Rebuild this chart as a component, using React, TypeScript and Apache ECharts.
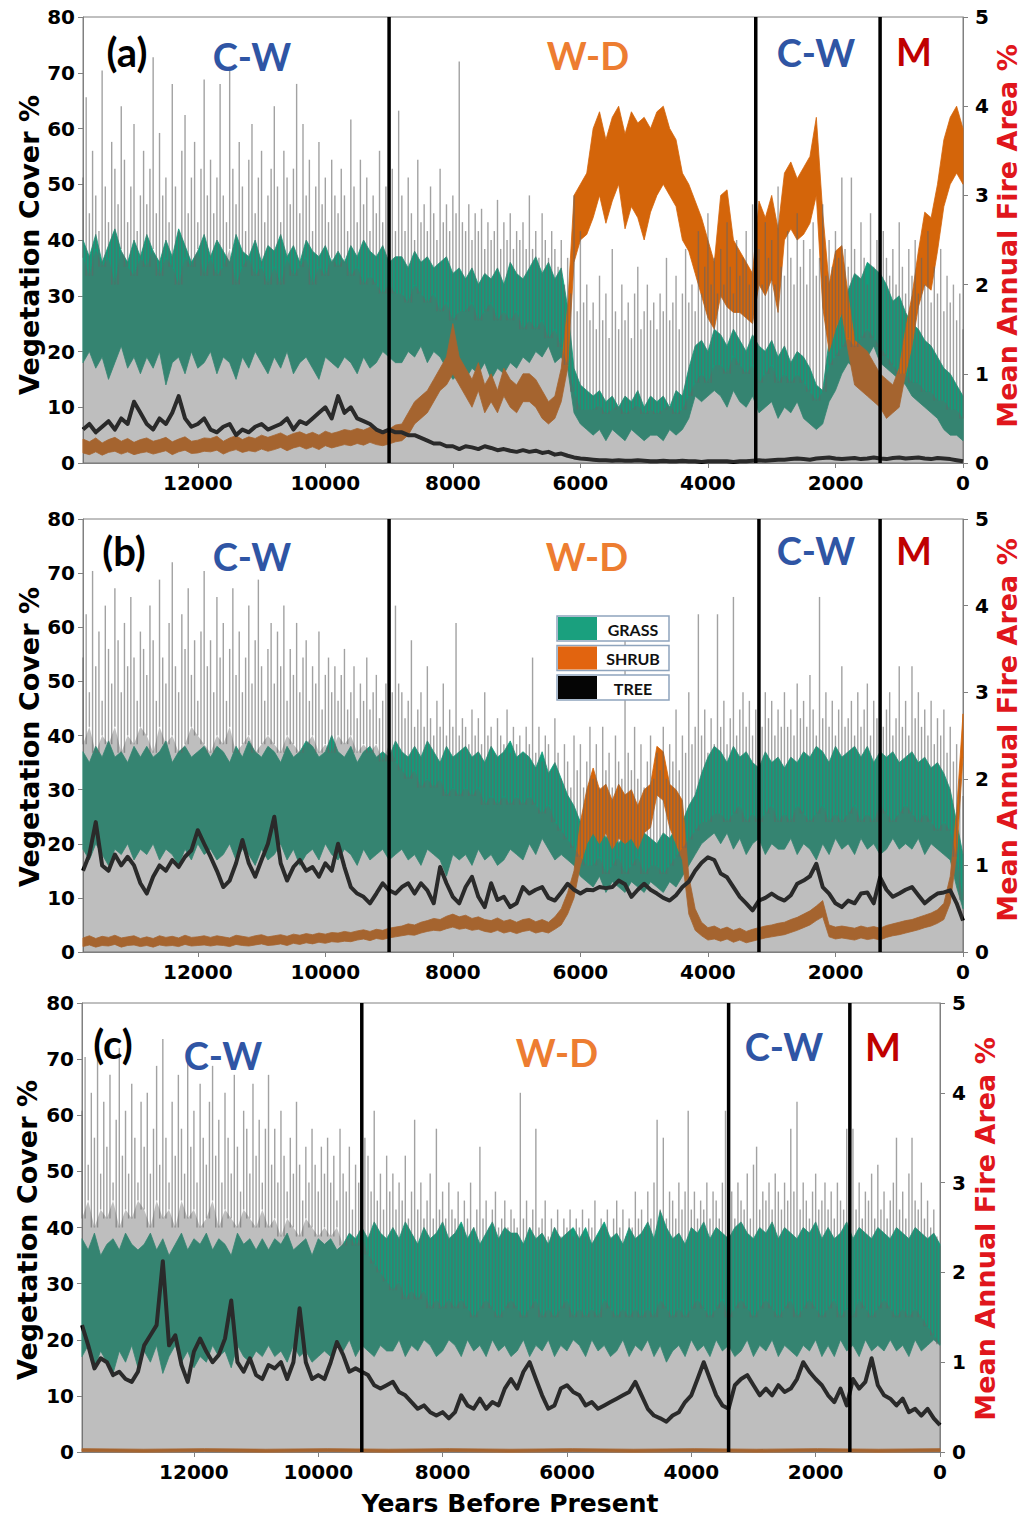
import React, { useEffect, useRef } from "react";
import * as echarts from "echarts";

// ---------------- axis ranges ----------------
const X_MAX = 13800; // years before present at the left edge
const X_STEP = 2000;
const VEG_MAX = 80;
const VEG_STEP = 10;
const FIRE_MAX = 5;
const FIRE_STEP = 1;

// ---------------- panel (a) ----------------
// vegetation arrays: one value every 100 years from 13800 BP to 0 BP
const grassHiA = [
  40, 37, 41, 36, 39, 42, 38, 36, 40, 37,
  41, 38, 36, 40, 37, 42, 39, 36, 38, 41,
  37, 40, 38, 36, 41, 38, 37, 40, 36, 39,
  38, 41, 37, 39, 36, 40, 38, 37, 39, 36,
  38, 36, 39, 37, 40, 38, 37, 39, 36, 37,
  37, 35, 38, 36, 37, 35, 36, 37, 34, 35,
  33, 35, 32, 34, 33, 35, 32, 36, 34, 33,
  35, 37, 34, 36, 33, 35, 28, 17, 14, 13,
  12, 13, 11, 12, 10, 12, 11, 13, 10, 12,
  11, 12, 10, 13, 12, 17, 21, 22, 20, 24,
  23, 21, 24, 22, 20, 23, 21, 20, 22, 19,
  21, 18, 20, 19, 17, 14, 13, 22, 24, 27,
  31, 34, 33, 36, 35, 34, 32, 29, 30, 27,
  25, 24, 22, 21, 19, 17, 16, 14, 12,
];
const grassLoA = [
  18, 20, 17, 19, 15, 18, 21, 17, 19, 16,
  19, 17, 20, 14, 18, 19, 16, 20, 17, 18,
  20, 16, 19, 18, 15, 19, 17, 20, 18, 16,
  19, 17, 20, 16, 18, 19, 17, 15, 19, 18,
  17, 19, 18, 16, 19, 17, 18, 20, 19, 18,
  18, 20, 19, 21, 18, 20, 19, 17, 15, 16,
  15, 17, 16, 18, 15, 17, 16, 18, 17, 19,
  18, 20, 19, 21, 18, 19, 17, 9, 7, 6,
  5, 6, 4, 6, 5, 4, 6, 5, 4, 5,
  5, 4, 6, 5, 6, 8, 12, 11, 12, 13,
  12, 10, 13, 11, 10, 12, 9, 10, 11, 8,
  10, 9, 11, 8, 7, 6, 7, 11, 13, 16,
  18, 17, 20, 19, 21, 18, 17, 16, 15, 14,
  12, 11, 10, 9, 8, 6, 5, 5, 4,
];
const shrubHiA = [
  4.3, 3.8, 4.5, 3.6, 4.2, 4.6, 3.9, 4.4, 3.7, 4.2,
  4.5, 3.9, 4.2, 4.6, 3.8, 4.3, 4.7, 3.9, 4.1, 4.5,
  4.4, 4.8, 3.9, 4.5, 4.9, 4.2, 4.7, 4.4, 5.0, 4.6,
  5.0, 5.4, 4.8, 5.3, 5.6, 5.1, 5.5, 5.0, 5.7, 5.3,
  5.6, 6.0, 5.8, 6.2, 5.9, 6.4, 6.0, 5.8, 6.1, 6.8,
  7, 9, 11, 12, 13, 15, 17, 19, 25, 19,
  17, 15, 18, 14, 16, 13, 17, 15, 14, 16,
  16, 15, 13, 11, 12, 17, 28, 48, 50, 52,
  60, 63, 58, 62, 64, 59, 63, 61, 62, 60,
  63, 64, 60, 58, 52, 50, 47, 44, 40, 36,
  48, 49, 40, 38, 36, 34, 47, 44, 48, 42,
  52, 54, 51, 53, 55, 62, 45, 32, 38, 39,
  30, 22, 21, 20, 18, 16, 15, 14, 17, 24,
  30, 38, 45, 44, 50, 58, 62, 64, 60,
];
const shrubLoA = [
  1.8, 1.5, 2.0, 1.4, 1.9, 2.1, 1.6, 2.0, 1.5, 1.8,
  2.0, 1.6, 1.9, 2.2, 1.5, 2.0, 2.3, 1.7, 1.8, 2.1,
  2.0, 2.3, 1.6, 2.1, 2.4, 1.9, 2.2, 2.0, 2.5, 2.1,
  2.4, 2.8, 2.2, 2.7, 3.0, 2.5, 2.9, 2.4, 3.1, 2.7,
  3.0, 3.3, 3.1, 3.5, 3.2, 3.7, 3.3, 3.1, 3.4, 3.8,
  4, 5, 7, 8, 9, 11, 13, 14, 16, 14,
  12, 10, 13, 9, 11, 9, 12, 10, 9, 11,
  11, 10, 8, 7, 8, 11, 17, 36, 40, 41,
  44, 48, 43, 47, 50, 42, 46, 44, 40, 45,
  48, 50, 48, 46, 40, 38, 34, 30, 26, 24,
  30, 28, 27, 27, 26, 25, 32, 30, 33, 27,
  40, 42, 40, 41, 43, 48, 28, 20, 24, 27,
  20, 14, 13, 12, 11, 10, 8, 9, 10, 16,
  21, 28, 32, 31, 38, 46, 50, 52, 50,
];
const treeA = [
  6, 7, 5.5, 6.5, 7.5, 6, 8, 7, 11, 9,
  7, 6, 8, 7, 9, 12, 8, 6.5, 7, 8,
  6, 5.5, 6.5, 7, 5, 6, 5.5, 6.5, 7, 6,
  6.5, 7, 8, 6, 7.5, 7, 8, 9, 10, 8,
  12, 9, 10, 8, 7.5, 7, 6, 5.5, 6, 5.5,
  5.5, 5, 5, 4.5, 4, 3.5, 3.5, 3, 3, 2.5,
  3, 2.8, 2.5, 3, 2.7, 2.3, 2.5, 2.2, 2.0, 2.3,
  2.0, 2.2, 1.8, 2.0, 1.5, 1.7, 1.3, 1.0, 0.8, 0.7,
  0.6, 0.5, 0.5, 0.4, 0.5, 0.4, 0.4, 0.5, 0.4, 0.3,
  0.3, 0.4, 0.3, 0.3, 0.4, 0.3, 0.3, 0.2, 0.3, 0.3,
  0.3, 0.3, 0.2, 0.3, 0.3, 0.4, 0.5, 0.4, 0.5, 0.6,
  0.6, 0.7, 0.8, 0.7, 0.6, 0.8, 0.9, 1.0, 0.8, 0.7,
  0.8, 0.9, 0.7, 0.8, 1.0, 0.8, 0.7, 0.9, 1.0, 0.8,
  0.9, 1.0, 0.8, 0.7, 0.9, 0.8, 0.7, 0.5, 0.3,
];
// fire: dense lower level every 100 years, spike tops every 50 years
const fireFloorA = [
  2.3, 2.1, 2.4, 2.2, 2.3, 2.0, 2.4, 2.2, 2.1, 2.3,
  2.2, 2.4, 2.1, 2.3, 2.2, 2.0, 2.3, 2.2, 2.4, 2.1,
  2.3, 2.1, 2.2, 2.4, 2.0, 2.2, 2.3, 2.1, 2.2, 2.0,
  2.2, 2.0, 2.3, 2.1, 2.2, 2.3, 2.0, 2.2, 2.1, 2.3,
  2.2, 2.3, 2.1, 2.2, 2.0, 2.1, 2.0, 1.9, 2.0, 1.9,
  1.9, 1.8, 2.0, 1.9, 1.8, 1.9, 1.7, 1.8, 1.6, 1.7,
  1.7, 1.8, 1.6, 1.7, 1.8, 1.6, 1.7, 1.6, 1.7, 1.5,
  1.6, 1.5, 1.6, 1.4, 1.5, 1.3, 1.1, 0.8, 0.6, 0.6,
  0.6, 0.65, 0.55, 0.6, 0.65, 0.55, 0.6, 0.65, 0.55, 0.6,
  0.55, 0.6, 0.65, 0.55, 0.6, 0.75, 0.9, 1.0, 0.9, 1.1,
  1.1, 1.0, 1.2, 1.1, 1.0, 1.1, 0.9, 1.0, 1.1, 0.9,
  1.0, 0.9, 1.0, 0.9, 0.8, 0.7, 0.8, 1.1, 1.2, 1.3,
  1.4, 1.3, 1.4, 1.5, 1.4, 1.3, 1.2, 1.1, 1.0, 1.0,
  0.9, 0.9, 0.8, 0.8, 0.7, 0.7, 0.6, 0.6, 0.5,
];
const firePeakA = [
  3.2, 4.1, 2.8, 3.5, 3.0, 2.6, 4.4, 3.1, 2.7, 3.6, 3.3, 2.9, 4.0, 3.4, 2.7, 3.1, 3.8, 2.6, 3.0, 3.5,
  2.9, 3.3, 4.55, 2.8, 3.7, 3.0, 3.2, 2.7, 4.25, 3.1, 2.6, 3.5, 3.9, 2.8, 3.2, 3.6, 2.7, 3.3, 4.3, 3.0,
  3.4, 2.8, 3.2, 4.25, 3.0, 2.7, 4.4, 3.3, 2.9, 3.6, 3.1, 2.6, 3.4, 3.8, 2.8, 3.2, 3.5, 2.7, 3.0, 3.3,
  4.0, 3.1, 2.7, 3.5, 3.2, 2.9, 3.3, 4.25, 2.8, 3.8, 3.0, 3.4, 2.6, 3.1, 3.6, 2.9, 3.2, 2.7, 3.4, 3.0,
  2.8, 3.3, 3.0, 2.6, 3.85, 3.1, 2.7, 3.4, 2.9, 3.2, 2.6, 3.0, 2.8, 3.5, 2.7, 3.1, 2.9, 3.3, 2.6, 3.95,
  3.0, 2.6, 3.2, 2.8, 2.5, 3.4, 2.7, 2.9, 2.6, 3.1, 2.8, 2.5, 3.3, 2.7, 2.9, 2.6, 3.0, 2.8, 4.5, 2.7,
  2.6, 2.9, 2.5, 2.8, 2.6, 2.85, 2.4, 2.7, 2.5, 2.6, 2.95, 2.4, 2.7, 2.5, 2.8, 2.4, 2.6, 2.5, 2.7, 2.4,
  3.0, 2.4, 2.6, 2.3, 2.8, 2.5, 2.3, 2.6, 2.4, 2.2, 2.5, 2.0, 2.3, 1.9, 3.0, 1.7, 2.6, 1.8, 2.0, 1.6,
  1.8, 1.5, 2.1, 1.6, 1.9, 1.4, 2.4, 1.7, 1.5, 2.0, 1.6, 1.8, 1.4, 1.9, 2.2, 1.5, 1.7, 2.0, 1.6, 1.8,
  1.5, 1.9, 1.7, 2.3, 1.6, 1.8, 2.1, 1.5, 1.9, 2.4, 1.8, 2.0, 1.7, 2.6, 1.9, 2.2, 2.8, 2.0, 2.3, 1.9,
  2.4, 2.0, 2.7, 2.2, 1.9, 2.5, 2.1, 2.3, 2.6, 2.0, 2.9, 2.2, 2.4, 2.0, 2.7, 2.3, 2.5, 2.0, 3.1, 2.2,
  2.1, 2.6, 2.3, 2.0, 2.8, 2.2, 2.5, 2.0, 2.4, 2.7, 2.1, 2.3, 2.9, 2.1, 2.5, 2.2, 2.6, 2.3, 3.2, 2.4,
  2.2, 3.2, 2.4, 2.1, 2.7, 2.3, 2.0, 2.8, 2.2, 2.5, 2.0, 2.6, 2.3, 2.1, 2.4, 2.0, 2.7, 2.2, 1.9, 2.4,
  2.1, 2.5, 1.9, 2.3, 2.0, 2.6, 1.8, 2.2, 1.9, 2.4, 1.7, 2.1, 1.8, 2.0, 1.6, 1.9, 1.5,
];
const boundariesA = [9000, 3250, 1300];

// ---------------- panel (b) ----------------
const grassHiB = [
  37, 35, 38, 36, 39, 36, 37, 35, 38, 36,
  38, 36, 37, 39, 35, 37, 38, 36, 37, 38,
  36, 38, 37, 35, 38, 36, 39, 37, 36, 38,
  37, 35, 38, 36, 37, 39, 38, 36, 37, 40,
  37, 36, 38, 35, 37, 38, 36, 37, 36, 39,
  37, 36, 38, 36, 39, 37, 35, 38, 36, 37,
  38, 36, 37, 35, 38, 36, 37, 39, 36, 37,
  36, 34, 37, 33, 35, 32, 29, 27, 24, 22,
  22, 24, 21, 23, 20, 22, 21, 20, 22, 21,
  20, 22, 21, 23, 24, 27, 29, 33, 36, 38,
  37, 35, 38, 36, 37, 35, 34, 37, 35, 36,
  34, 36, 35, 37, 36, 38, 37, 35, 38, 36,
  37, 38, 36, 38, 35, 37, 36, 37, 35, 36,
  37, 35, 36, 34, 35, 33, 30, 24, 18,
];
const grassLoB = [
  19, 17, 20, 18, 16, 19, 18, 20, 17, 19,
  18, 20, 17, 19, 18, 16, 19, 17, 20, 18,
  19, 17, 18, 20, 17, 19, 18, 16, 19, 17,
  18, 20, 17, 19, 16, 18, 19, 17, 20, 18,
  17, 19, 18, 16, 19, 17, 18, 19, 17, 18,
  19, 17, 18, 16, 19, 18, 17, 14, 18, 17,
  18, 16, 19, 17, 18, 16, 17, 19, 18, 17,
  20, 18, 21, 19, 17, 18, 17, 16, 14, 13,
  12, 14, 11, 13, 12, 11, 13, 12, 11, 13,
  12, 11, 13, 12, 14, 16, 18, 20, 21, 22,
  20, 22, 19, 21, 18, 20, 21, 18, 20, 19,
  19, 21, 18, 20, 19, 17, 20, 18, 21, 19,
  20, 18, 21, 19, 20, 18, 19, 21, 19, 20,
  19, 21, 18, 20, 19, 18, 17, 12, 8,
];
const shrubHiB = [
  2.6, 3.0, 2.5, 2.9, 2.7, 3.1, 2.6, 2.8, 3.0, 2.5,
  2.8, 2.5, 3.0, 2.7, 2.9, 2.6, 3.1, 2.7, 2.8, 3.0,
  2.7, 3.0, 2.8, 2.6, 3.1, 2.9, 2.7, 3.0, 3.2, 2.8,
  3.0, 3.2, 2.9, 3.3, 3.1, 3.4, 3.2, 3.5, 3.3, 3.6,
  3.5, 3.8, 3.6, 3.9, 4.1, 3.8, 4.2, 4.0, 4.4, 4.6,
  4.8, 5.2, 5.0, 5.5, 5.8, 6.2, 6.0, 6.6, 7.0, 6.5,
  6.8, 6.2, 6.5, 6.0, 5.8, 6.3, 5.7, 6.0, 5.5, 6.0,
  6.2, 5.6, 6.0, 5.5, 6.5, 8, 11, 15, 24, 30,
  34, 30, 31, 28, 31, 29, 30, 27, 30, 31,
  38, 37, 31, 30, 28, 14, 8, 5.5, 4.5, 4.8,
  4.2, 4.6, 4.0, 4.4, 3.8, 4.2, 4.5, 4.8, 5.0, 5.3,
  5.5, 6.0, 6.4, 7.0, 7.6, 8.5, 9.5, 5.0, 4.6, 4.8,
  4.6, 4.4, 4.8, 4.5, 4.7, 4.4, 4.9, 5.2, 5.5, 5.8,
  6.0, 6.4, 6.8, 7.2, 7.8, 9, 14, 26, 44,
];
const shrubLoB = [
  1.0, 1.3, 0.9, 1.2, 1.1, 1.4, 0.9, 1.2, 1.3, 1.0,
  1.2, 0.9, 1.3, 1.1, 1.2, 1.0, 1.4, 1.1, 1.2, 1.3,
  1.1, 1.3, 1.2, 1.0, 1.4, 1.2, 1.1, 1.3, 1.5, 1.2,
  1.3, 1.5, 1.2, 1.6, 1.4, 1.7, 1.5, 1.8, 1.6, 1.9,
  1.8, 2.0, 1.9, 2.2, 2.4, 2.1, 2.5, 2.3, 2.6, 2.8,
  3.0, 3.2, 3.1, 3.5, 3.8, 4.0, 3.9, 4.3, 4.6, 4.2,
  4.4, 4.0, 4.2, 3.8, 3.6, 4.0, 3.5, 3.8, 3.4, 3.8,
  4.0, 3.5, 3.8, 3.5, 4.2, 5, 7, 10, 16, 20,
  22, 20, 22, 19, 21, 20, 21, 19, 22, 23,
  29, 28, 23, 20, 17, 7, 4, 3, 2.2, 2.4,
  2.0, 2.4, 1.8, 2.2, 1.7, 2.0, 2.3, 2.6, 2.8, 3.0,
  3.2, 3.6, 4.0, 4.5, 5.0, 5.8, 6.5, 2.8, 2.4, 2.6,
  2.4, 2.2, 2.6, 2.3, 2.5, 2.2, 2.7, 3.0, 3.2, 3.5,
  3.8, 4.1, 4.5, 4.8, 5.3, 6, 9, 18, 36,
];
const treeB = [
  15, 18, 24, 16, 15, 18, 16, 17.6, 16, 12.7,
  10.8, 13.9, 16, 15, 17, 15.7, 17.6, 18.8, 22.5, 20,
  17.6, 15, 12, 13.2, 16.4, 20.7, 16.4, 13.9, 17, 20,
  25, 16.4, 13.2, 15.7, 17, 15, 15.7, 13.9, 16.4, 15,
  20, 15.7, 12, 10.8, 10.2, 9, 10.8, 12.7, 11.4, 10.8,
  12, 12.7, 10.8, 12.7, 11.4, 9, 15.7, 12.7, 10.2, 9,
  12, 13.9, 10.2, 8.3, 12.7, 9.6, 10.2, 8.3, 9, 12,
  10.8, 11.5, 12, 10, 9.5, 11, 12.6, 11.5, 10.8, 11.5,
  11.4, 12, 11.8, 12, 13.2, 12.5, 10.2, 11.5, 12.6, 11.5,
  10.8, 10, 9.5, 10.5, 12, 13, 15, 16.5, 17.5, 17,
  14.5, 13.8, 12, 10.2, 9, 7.7, 9.5, 10, 10.8, 10,
  9.5, 10.5, 12.6, 13.2, 14, 16.3, 12, 10.8, 9, 8.3,
  9.5, 9, 10.8, 11, 9, 13.8, 11.5, 10.2, 10.8, 11.5,
  12, 10.5, 9, 10, 10.8, 11, 11.4, 9, 5.8,
];
const fireFloorB = [
  2.4, 2.6, 2.3, 2.5, 2.4, 2.6, 2.3, 2.5, 2.4, 2.6,
  2.5, 2.3, 2.6, 2.4, 2.5, 2.3, 2.4, 2.6, 2.5, 2.4,
  2.3, 2.5, 2.4, 2.6, 2.3, 2.4, 2.5, 2.3, 2.4, 2.5,
  2.4, 2.3, 2.5, 2.4, 2.3, 2.4, 2.5, 2.3, 2.4, 2.3,
  2.5, 2.4, 2.5, 2.3, 2.4, 2.3, 2.4, 2.2, 2.4, 2.2,
  2.1, 2.0, 2.1, 1.9, 2.0, 1.9, 2.0, 1.8, 1.9, 1.8,
  1.9, 1.8, 1.9, 1.7, 1.8, 1.7, 1.8, 1.7, 1.8, 1.7,
  1.8, 1.7, 1.6, 1.7, 1.5, 1.4, 1.3, 1.2, 1.1, 1.0,
  1.0, 1.1, 0.9, 1.0, 1.1, 0.9, 1.0, 1.1, 0.9, 1.0,
  1.0, 0.9, 1.0, 1.1, 1.2, 1.3, 1.4, 1.5, 1.5, 1.6,
  1.6, 1.5, 1.6, 1.7, 1.5, 1.6, 1.5, 1.6, 1.7, 1.5,
  1.6, 1.5, 1.7, 1.6, 1.5, 1.6, 1.7, 1.5, 1.6, 1.5,
  1.6, 1.7, 1.5, 1.6, 1.5, 1.7, 1.6, 1.5, 1.6, 1.7,
  1.6, 1.5, 1.6, 1.5, 1.4, 1.5, 1.4, 1.1, 0.6,
];
const firePeakB = [
  3.4, 3.9, 3.0, 4.4, 3.3, 3.7, 2.9, 4.0, 3.5, 3.1, 4.2, 3.6, 3.0, 3.8, 3.3, 4.1, 3.4, 2.9, 3.7, 3.5,
  3.2, 4.0, 3.6, 2.9, 4.3, 3.4, 3.1, 3.8, 4.5, 3.3, 3.0, 3.9, 3.5, 4.2, 3.2, 3.6, 2.9, 3.7, 4.4, 3.3,
  3.6, 3.0, 4.1, 3.4, 3.8, 2.9, 3.5, 4.2, 3.2, 3.7, 3.0, 3.4, 4.0, 3.1, 3.6, 4.3, 3.3, 2.9, 3.5, 3.8,
  3.1, 3.7, 3.3, 4.0, 2.9, 3.5, 3.2, 3.8, 3.0, 3.4, 3.6, 2.9, 3.3, 3.1, 3.7, 2.8, 3.2, 3.4, 3.0, 3.3,
  2.9, 3.2, 3.5, 2.8, 3.0, 3.3, 2.7, 3.1, 2.9, 3.4, 2.8, 3.0, 3.2, 2.7, 2.9, 3.1, 2.8, 3.0, 4.0, 3.1,
  3.0, 2.7, 2.9, 3.6, 2.6, 2.8, 3.0, 2.6, 3.3, 2.7, 2.5, 2.9, 2.6, 3.1, 2.5, 2.8, 2.6, 3.8, 2.5, 2.7,
  2.6, 2.4, 2.8, 2.5, 2.7, 2.4, 3.0, 2.5, 2.6, 2.3, 2.7, 2.5, 2.4, 2.8, 2.3, 2.6, 2.4, 2.5, 2.3, 2.6,
  2.4, 3.4, 2.3, 2.6, 2.2, 2.5, 2.4, 2.1, 2.7, 2.3, 2.0, 2.4, 2.2, 1.9, 2.5, 2.1, 2.4, 1.9, 2.2, 2.6,
  2.0, 2.4, 1.9, 2.6, 2.1, 2.3, 1.9, 2.5, 2.2, 2.0, 3.8, 2.3, 2.1, 2.6, 2.0, 2.4, 1.9, 2.2, 2.5, 2.0,
  2.3, 2.1, 2.6, 2.0, 2.4, 2.2, 2.8, 2.1, 2.5, 2.3, 3.0, 2.4, 2.6, 3.9, 2.5, 2.8, 2.3, 2.7, 2.4, 3.9,
  2.6, 2.9, 2.4, 2.7, 4.1, 2.5, 2.8, 3.0, 2.6, 2.9, 2.5, 2.8, 4.2, 2.6, 3.0, 2.7, 2.9, 2.5, 2.8, 2.6,
  3.0, 2.6, 2.8, 2.5, 3.1, 2.7, 2.9, 2.6, 3.2, 2.8, 2.5, 4.1, 2.7, 3.0, 2.6, 2.9, 2.5, 2.8, 3.3, 2.6,
  2.7, 2.9, 2.5, 3.0, 2.6, 2.8, 3.1, 2.5, 2.9, 2.7, 3.9, 2.6, 2.8, 3.0, 2.5, 2.7, 3.3, 2.6, 2.9, 2.5,
  3.3, 2.7, 3.0, 2.6, 2.8, 2.5, 2.9, 2.4, 2.7, 2.5, 2.8, 2.3, 2.6, 2.2, 2.4, 2.0, 1.8,
];
const boundariesB = [9000, 3200, 1300];

// ---------------- panel (c) ----------------
const grassHiC = [
  38, 36, 39, 35, 37, 38, 36, 39, 37, 36,
  37, 39, 36, 38, 35, 37, 39, 36, 38, 37,
  39, 36, 38, 37, 35, 39, 37, 38, 36, 38,
  36, 38, 37, 39, 36, 37, 38, 35, 38, 37,
  38, 36, 37, 39, 38, 40, 38, 41, 39, 38,
  40, 38, 41, 39, 37, 40, 38, 39, 41, 38,
  39, 41, 38, 40, 37, 39, 41, 38, 40, 39,
  39, 37, 40, 38, 39, 37, 40, 38, 39, 40,
  38, 40, 37, 39, 41, 38, 39, 37, 40, 38,
  39, 41, 38, 43, 40, 38, 39, 37, 40, 39,
  41, 38, 40, 39, 38, 40, 41, 39, 38, 40,
  39, 41, 38, 40, 39, 38, 40, 39, 41, 38,
  40, 38, 39, 41, 38, 40, 39, 38, 40, 39,
  38, 40, 39, 38, 40, 39, 38, 39, 37,
];
const grassLoC = [
  17, 19, 15, 18, 16, 14, 18, 16, 19, 15,
  18, 16, 19, 14, 17, 19, 16, 18, 15, 17,
  16, 19, 17, 18, 15, 19, 17, 16, 18, 17,
  19, 17, 18, 16, 19, 17, 18, 16, 17, 18,
  17, 19, 18, 20, 17, 19, 18, 17, 19, 18,
  18, 20, 17, 19, 18, 20, 19, 17, 18, 20,
  19, 17, 20, 18, 19, 17, 20, 18, 19, 17,
  18, 20, 17, 19, 18, 20, 17, 19, 18, 20,
  19, 17, 20, 18, 19, 17, 18, 20, 17, 19,
  18, 20, 17, 19, 16, 18, 19, 17, 20, 18,
  19, 17, 20, 18, 19, 17, 18, 20, 17, 19,
  18, 20, 17, 19, 18, 17, 19, 18, 20, 17,
  19, 17, 20, 18, 19, 17, 20, 18, 19, 18,
  20, 18, 19, 17, 20, 18, 19, 20, 19,
];
// shrub stays near zero in (c): one value about every 1000 years
const shrubHiC = [0.6, 0.5, 0.6, 0.5, 0.6, 0.5, 0.6, 0.5, 0.6, 0.5, 0.6, 0.5, 0.6, 0.5, 0.6];
const shrubLoC = [0.1, 0.0, 0.1, 0.0, 0.1, 0.0, 0.1, 0.0, 0.1, 0.0, 0.1, 0.0, 0.1, 0.0, 0.1];
const treeC = [
  22.6, 19, 14.9, 16.7, 16, 13.7, 14.3, 13, 12.5, 14.3,
  19, 20.8, 22.6, 34, 19, 20.8, 15.5, 12.5, 17.9, 20.2,
  17.9, 16, 17.3, 20.2, 27, 16, 14.3, 16.7, 13.7, 13,
  15.5, 14.9, 16, 13, 16, 25.6, 16, 13, 13.7, 13,
  16, 19.6, 17.3, 14.3, 14.9, 14.3, 13.7, 11.9, 11.3, 11.9,
  12.5, 10.7, 10.1, 8.9, 7.7, 8.3, 7.1, 6.5, 7.1, 6,
  7.1, 10.1, 8.3, 7.7, 9.5, 7.7, 8.9, 8.3, 11.3, 13,
  11.3, 14.3, 16, 13, 10.1, 7.7, 8.3, 11.3, 11.9, 10.7,
  10.1, 8.3, 8.9, 7.7, 8.3, 8.9, 9.5, 10.1, 10.7, 12.5,
  10.1, 7.7, 6.5, 6, 5.4, 6.5, 7.1, 8.9, 10.1, 13,
  16, 13, 10.1, 8.3, 7.7, 11.9, 13, 13.7, 11.9, 10.1,
  11.3, 10.1, 11.9, 10.7, 11.3, 13, 16, 14.3, 13, 11.9,
  10.1, 8.9, 11.3, 8.3, 13, 11.3, 12.5, 16.7, 11.9, 10.1,
  9.5, 8.3, 9.5, 7.1, 7.7, 6.5, 7.7, 6, 4.8,
];
const fireFloorC = [
  2.6, 2.8, 2.5, 2.7, 2.6, 2.8, 2.5, 2.7, 2.6, 2.8,
  2.7, 2.5, 2.8, 2.6, 2.7, 2.5, 2.8, 2.6, 2.7, 2.5,
  2.6, 2.8, 2.5, 2.7, 2.6, 2.5, 2.7, 2.6, 2.5, 2.7,
  2.5, 2.6, 2.4, 2.6, 2.5, 2.4, 2.6, 2.5, 2.4, 2.5,
  2.4, 2.5, 2.3, 2.4, 2.3, 2.4, 2.2, 2.1, 2.0, 1.9,
  1.8, 1.9, 1.7, 1.8, 1.7, 1.8, 1.6, 1.7, 1.6, 1.7,
  1.6, 1.7, 1.6, 1.5, 1.6, 1.7, 1.6, 1.5, 1.6, 1.7,
  1.6, 1.5, 1.6, 1.7, 1.5, 1.6, 1.5, 1.6, 1.7, 1.5,
  1.6, 1.5, 1.6, 1.5, 1.7, 1.6, 1.5, 1.6, 1.5, 1.6,
  1.5, 1.6, 1.5, 1.7, 1.6, 1.5, 1.6, 1.5, 1.6, 1.7,
  1.6, 1.5, 1.6, 1.7, 1.5, 1.6, 1.7, 1.6, 1.5, 1.6,
  1.7, 1.6, 1.5, 1.6, 1.7, 1.5, 1.6, 1.7, 1.6, 1.5,
  1.6, 1.7, 1.5, 1.6, 1.5, 1.7, 1.6, 1.5, 1.6, 1.7,
  1.6, 1.5, 1.6, 1.5, 1.6, 1.5, 1.4, 1.3, 1.2,
];
const firePeakC = [
  3.8, 4.4, 3.2, 4.0, 3.5, 4.6, 3.1, 3.9, 3.4, 4.2, 3.0, 3.7, 4.5, 3.3, 3.8, 3.1, 4.1, 3.5, 3.0, 3.9,
  3.4, 4.0, 3.1, 3.6, 4.3, 3.2, 4.6, 3.5, 3.0, 3.9, 3.3, 4.2, 3.6, 3.1, 4.4, 3.4, 3.8, 3.0, 4.1, 3.5,
  3.2, 3.9, 4.3, 3.3, 3.7, 3.0, 4.0, 3.5, 3.1, 4.2, 3.4, 2.9, 3.8, 3.6, 3.1, 4.1, 3.3, 3.7, 3.0, 3.6,
  4.2, 3.2, 3.6, 3.0, 3.8, 3.3, 2.9, 3.5, 3.1, 3.9, 3.2, 2.8, 3.4, 3.0, 3.6, 3.2, 2.9, 3.4, 3.1, 3.5,
  3.0, 3.3, 2.8, 3.6, 3.1, 2.9, 3.4, 2.7, 3.2, 3.0, 2.8, 3.5, 3.3, 2.9, 3.8, 2.8, 3.1, 2.7, 3.3, 2.9,
  3.1, 2.7, 3.0, 2.8, 3.3, 2.6, 2.9, 3.7, 2.7, 3.0, 2.6, 2.8, 3.1, 2.6, 3.6, 2.7, 2.9, 2.6, 3.0, 2.7,
  2.6, 2.9, 2.5, 2.8, 2.6, 3.0, 2.5, 2.7, 3.4, 2.6, 2.8, 2.5, 2.7, 2.9, 2.5, 2.6, 2.8, 2.5, 2.7, 2.6,
  2.5, 4.0, 2.6, 2.8, 2.5, 2.7, 3.6, 2.5, 2.6, 2.8, 2.4, 2.6, 2.5, 2.7, 2.4, 2.6, 2.5, 2.7, 2.4, 2.6,
  2.5, 2.7, 2.4, 2.6, 2.5, 2.8, 2.4, 2.6, 2.5, 2.7, 2.4, 2.6, 2.8, 2.5, 2.7, 2.4, 2.6, 2.5, 2.9, 2.6,
  2.7, 2.5, 2.9, 2.6, 3.0, 3.7, 2.7, 3.5, 2.6, 2.9, 2.8, 2.6, 3.0, 2.7, 2.9, 3.8, 2.7, 2.9, 2.6, 2.8,
  2.7, 3.0, 2.6, 2.9, 2.8, 2.6, 3.0, 3.8, 2.7, 2.9, 2.6, 3.0, 2.8, 2.7, 3.1, 2.6, 3.2, 3.4, 2.7, 2.9,
  2.8, 3.0, 2.7, 3.1, 2.9, 2.7, 3.0, 2.8, 3.6, 2.9, 3.9, 2.7, 3.0, 2.8, 2.6, 2.9, 3.1, 2.7, 2.8, 3.0,
  2.7, 2.9, 2.6, 3.0, 2.8, 2.7, 3.6, 2.9, 3.6, 2.7, 3.0, 2.6, 2.9, 2.8, 3.1, 2.6, 3.2, 2.7, 2.9, 2.6,
  2.8, 3.0, 3.5, 2.7, 2.9, 2.6, 3.1, 3.5, 2.8, 2.7, 3.0, 2.6, 2.8, 2.5, 2.7, 2.4, 2.3,
];
const boundariesC = [9300, 3400, 1450];

// ---------------- text ----------------
const panelTags = ["(a)", "(b)", "(c)"];
const regionNames = ["C-W", "W-D", "C-W", "M"];
const legendNames = ["GRASS", "SHRUB", "TREE"];
const leftTitle = "Vegetation Cover %";
const rightTitle = "Mean Annual Fire Area %";
const xTitle = "Years Before Present";

// ---------------- styles / layout ----------------
const GRASS = "#139c7b";
const SHRUB = "#d4650a";
const TREE = "#000000";
const FIRE_FILL = "rgba(100,100,100,0.42)";
const FIRE_LINE = "rgba(100,100,100,0.6)";
const REGION_COLORS = ["#2f55a4", "#ed7d31", "#2f55a4", "#c00000"];
const LEGEND_COLORS = ["#1aa07e", "#e2640f", "#050505"];
const AXIS_GRAY = "#808080";
const TICK_FONT = "DejaVu Sans";
const ANNOT_FONT = "Lato, 'Open Sans', sans-serif";

const GRIDS = [
  { left: 83, top: 17, width: 880, height: 446 },
  { left: 83, top: 519, width: 880, height: 433 },
  { left: 82, top: 1003, width: 858, height: 449 },
];
const TAG_POS = [[127, 52], [124, 551], [113, 1044]];
const REGION_POS = [
  [[252, 56], [588, 55], [816, 52], [914, 51]],
  [[252, 556], [587, 556], [816, 550], [914, 550]],
  [[223, 1055], [557, 1052], [784, 1046], [883, 1046]],
];
const LEFT_TITLE_POS = [[29, 245], [29, 737], [27, 1230]];
const RIGHT_TITLE_POS = [[1007, 236], [1007, 730], [985, 1229]];

function yearsOf(n: number): number[] {
  const step = X_MAX / (n - 1);
  return Array.from({ length: n }, (_, i) => X_MAX - i * step);
}

function bandSeries(xi: number, yi: number, lo: number[], hi: number[], color: string, z: number) {
  const ys = yearsOf(lo.length);
  const rows = ys.map((y, i) => [y, lo[i], hi[i]]);
  return {
    type: "custom",
    xAxisIndex: xi,
    yAxisIndex: yi,
    z,
    silent: true,
    data: rows,
    encode: { x: 0, y: [1, 2] },
    renderItem: (params: any, api: any) => {
      if (params.dataIndex !== 0) return null;
      const top = rows.map((r) => api.coord([r[0], r[2]]));
      const bot = rows.map((r) => api.coord([r[0], r[1]])).reverse();
      return {
        type: "polygon",
        shape: { points: top.concat(bot) },
        style: { fill: color, stroke: color, lineWidth: 0.8 },
      };
    },
  };
}

function lineSeries(xi: number, yi: number, vals: number[], color: string, width: number, z: number) {
  const ys = yearsOf(vals.length);
  return {
    type: "line",
    xAxisIndex: xi,
    yAxisIndex: yi,
    z,
    silent: true,
    showSymbol: false,
    symbol: "none",
    data: vals.map((v, i) => [ys[i], v]),
    lineStyle: { color, width, join: "round" },
  };
}

function fireFloorSeries(xi: number, yi: number, floor: number[], z: number) {
  const ys = yearsOf(floor.length);
  return {
    type: "line",
    xAxisIndex: xi,
    yAxisIndex: yi,
    z,
    silent: true,
    showSymbol: false,
    symbol: "none",
    data: floor.map((v, i) => [ys[i], v]),
    lineStyle: { width: 0, opacity: 0 },
    areaStyle: { color: FIRE_FILL, opacity: 1, origin: "start" },
  };
}

function fireSpikeSeries(xi: number, yi: number, floor: number[], peaks: number[], z: number) {
  const py = yearsOf(peaks.length);
  const fStep = X_MAX / (floor.length - 1);
  const rows = peaks.map((p, j) => {
    const idx = (X_MAX - py[j]) / fStep;
    const a = Math.max(0, Math.floor(idx + 1e-6));
    const b = Math.min(floor.length - 1, Math.ceil(idx - 1e-6));
    return [py[j], Math.min(floor[a], floor[b]), p];
  });
  return {
    type: "custom",
    xAxisIndex: xi,
    yAxisIndex: yi,
    z,
    silent: true,
    data: rows,
    encode: { x: 0, y: [1, 2] },
    renderItem: (params: any, api: any) => {
      const yr = api.value(0);
      const f = api.value(1);
      const p = api.value(2);
      if (p <= f) return null;
      const a = api.coord([yr, f]);
      const b = api.coord([yr, p]);
      return {
        type: "line",
        shape: { x1: a[0], y1: a[1], x2: b[0], y2: b[1] },
        style: { stroke: FIRE_LINE, lineWidth: 1.4 },
      };
    },
  };
}

function boundarySeries(xi: number, yi: number, years: number[], z: number) {
  return {
    type: "custom",
    xAxisIndex: xi,
    yAxisIndex: yi,
    z,
    silent: true,
    data: years.map((y) => [y, 0]),
    encode: { x: 0, y: 1 },
    renderItem: (params: any, api: any) => {
      const cs = params.coordSys;
      const p = api.coord([api.value(0), 0]);
      return {
        type: "line",
        shape: { x1: p[0], y1: cs.y, x2: p[0], y2: cs.y + cs.height },
        style: { stroke: "#000", lineWidth: 3.5 },
      };
    },
  };
}

const tickLabel = {
  color: "#000",
  fontFamily: TICK_FONT,
  fontWeight: "bold" as const,
  fontSize: 20,
};

function textEl(text: string, x: number, y: number, font: string, fill: string, rotation = 0) {
  return {
    type: "text",
    x,
    y,
    rotation,
    z: 100,
    silent: true,
    style: {
      text,
      font,
      fill,
      textAlign: "center",
      textVerticalAlign: "middle",
      align: "center",
      verticalAlign: "middle",
    },
  };
}

function buildOption() {
  const panels = [
    { grassHi: grassHiA, grassLo: grassLoA, shrubHi: shrubHiA, shrubLo: shrubLoA, tree: treeA, floor: fireFloorA, peaks: firePeakA, bounds: boundariesA },
    { grassHi: grassHiB, grassLo: grassLoB, shrubHi: shrubHiB, shrubLo: shrubLoB, tree: treeB, floor: fireFloorB, peaks: firePeakB, bounds: boundariesB },
    { grassHi: grassHiC, grassLo: grassLoC, shrubHi: shrubHiC, shrubLo: shrubLoC, tree: treeC, floor: fireFloorC, peaks: firePeakC, bounds: boundariesC },
  ];

  const grid = GRIDS.map((g) => ({
    ...g,
    show: true,
    borderColor: AXIS_GRAY,
    borderWidth: 1,
    backgroundColor: "transparent",
    containLabel: false,
    outerBoundsMode: "none",
  }));

  const xAxis = GRIDS.map((_, k) => ({
    type: "value",
    gridIndex: k,
    inverse: true,
    min: 0,
    max: X_MAX,
    interval: X_STEP,
    axisLine: { show: true, onZero: false, lineStyle: { color: AXIS_GRAY, width: 1 } },
    axisTick: { show: true, length: 5, lineStyle: { color: AXIS_GRAY } },
    axisLabel: {
      ...tickLabel,
      margin: 10,
      showMaxLabel: false,
      formatter: (v: number) => (v % X_STEP === 0 ? String(v) : ""),
    },
    splitLine: { show: false },
  }));

  const yAxis: any[] = [];
  GRIDS.forEach((_, k) => {
    yAxis.push({
      type: "value",
      gridIndex: k,
      position: "left",
      min: 0,
      max: VEG_MAX,
      interval: VEG_STEP,
      axisLine: { show: true, onZero: false, lineStyle: { color: AXIS_GRAY } },
      axisTick: { show: true, length: 5, lineStyle: { color: AXIS_GRAY } },
      axisLabel: { ...tickLabel, margin: 8 },
      splitLine: { show: false },
    });
    yAxis.push({
      type: "value",
      gridIndex: k,
      position: "right",
      min: 0,
      max: FIRE_MAX,
      interval: FIRE_STEP,
      axisLine: { show: true, onZero: false, lineStyle: { color: AXIS_GRAY } },
      axisTick: { show: true, length: 5, lineStyle: { color: AXIS_GRAY } },
      axisLabel: { ...tickLabel, margin: 12 },
      splitLine: { show: false },
    });
  });

  const series: any[] = [];
  panels.forEach((p, k) => {
    const yl = 2 * k;
    const yr = 2 * k + 1;
    series.push(bandSeries(k, yl, p.grassLo, p.grassHi, GRASS, 2));
    series.push(bandSeries(k, yl, p.shrubLo, p.shrubHi, SHRUB, 3));
    series.push(lineSeries(k, yl, p.tree, TREE, 4, 4));
    series.push(fireFloorSeries(k, yr, p.floor, 5));
    series.push(fireSpikeSeries(k, yr, p.floor, p.peaks, 6));
    series.push(boundarySeries(k, yl, p.bounds, 7));
  });

  const graphic: any[] = [];
  const regionFont = `bold 38px ${ANNOT_FONT}`;
  GRIDS.forEach((_, k) => {
    graphic.push(textEl(panelTags[k], TAG_POS[k][0], TAG_POS[k][1], `bold 40px ${ANNOT_FONT}`, "#000"));
    regionNames.forEach((name, r) => {
      graphic.push(textEl(name, REGION_POS[k][r][0], REGION_POS[k][r][1], regionFont, REGION_COLORS[r]));
    });
    graphic.push(textEl(leftTitle, LEFT_TITLE_POS[k][0], LEFT_TITLE_POS[k][1], `bold 27px ${TICK_FONT}`, "#000", Math.PI / 2));
    graphic.push(textEl(rightTitle, RIGHT_TITLE_POS[k][0], RIGHT_TITLE_POS[k][1], `bold 27px ${TICK_FONT}`, "#e0161c", Math.PI / 2));
  });
  graphic.push(textEl(xTitle, 510, 1503, `bold 25px ${TICK_FONT}`, "#000"));

  // legend inside panel (b)
  const legX = 557;
  const legY = [616, 645.5, 675];
  legendNames.forEach((name, i) => {
    graphic.push({
      type: "rect",
      z: 100,
      silent: true,
      shape: { x: legX, y: legY[i], width: 112, height: 25 },
      style: { fill: "#ffffff", stroke: "#8ea4bd", lineWidth: 1.5 },
    });
    graphic.push({
      type: "rect",
      z: 101,
      silent: true,
      shape: { x: legX + 1, y: legY[i] + 1, width: 39, height: 23 },
      style: { fill: LEGEND_COLORS[i] },
    });
    graphic.push(textEl(name, legX + 76, legY[i] + 13, `bold 16px ${ANNOT_FONT}`, "#111"));
  });

  return {
    animation: false,
    backgroundColor: "#ffffff",
    grid,
    xAxis,
    yAxis,
    series,
    graphic,
  };
}

export default function App() {
  const ref = useRef<HTMLDivElement>(null);
  useEffect(() => {
    if (!ref.current) return;
    const chart = echarts.init(ref.current, null, { renderer: "svg" });
    chart.setOption(buildOption() as any);
    return () => chart.dispose();
  }, []);
  return (
    <div
      ref={ref}
      style={{ position: "absolute", left: 0, top: 0, width: 1024, height: 1519, background: "#fff" }}
    />
  );
}
